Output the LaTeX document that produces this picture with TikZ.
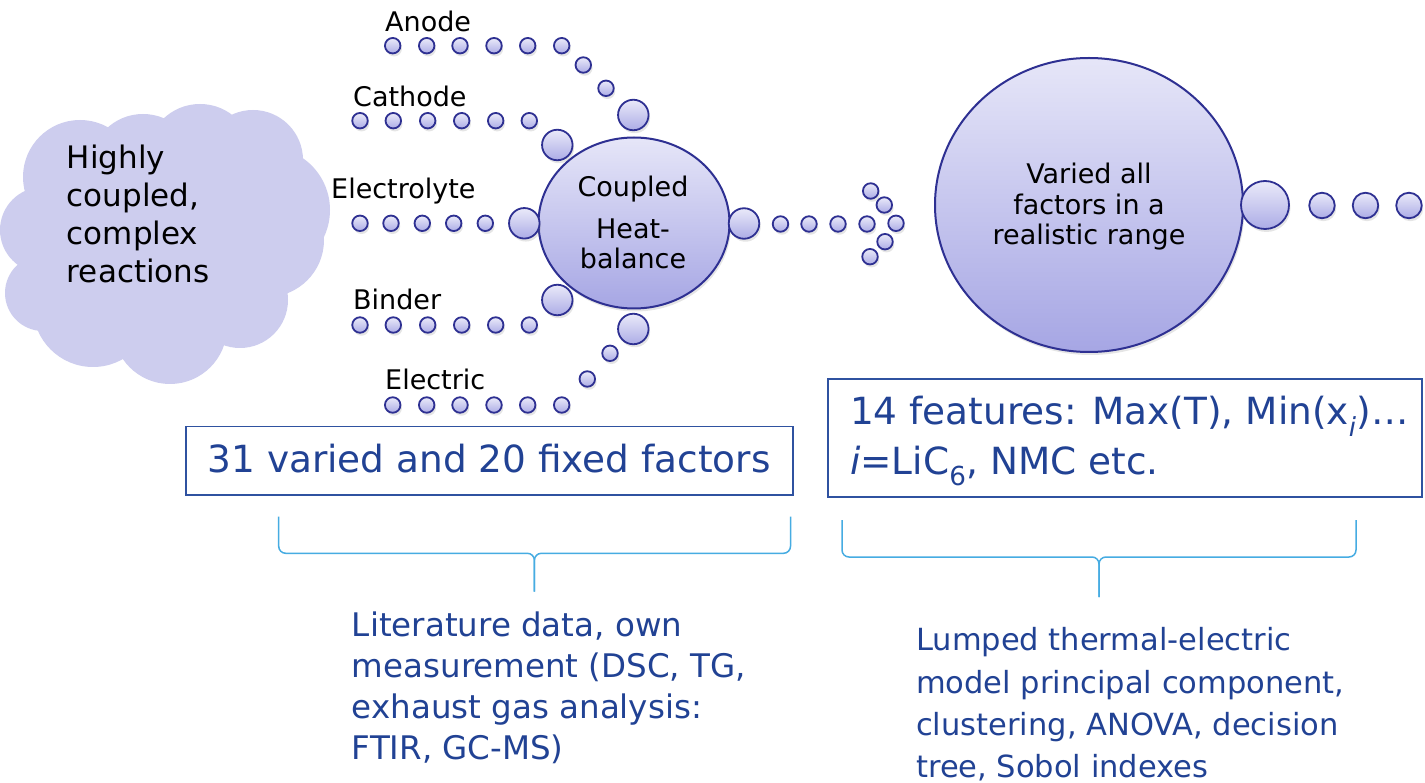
\documentclass[tikz,border=0pt]{standalone}
\usepackage{fontspec}
\setmainfont{DejaVu Sans}
\usetikzlibrary{shapes.geometric,shadows}
\definecolor{navy}{RGB}{46,48,146}
\definecolor{dottop}{RGB}{234,234,249}
\definecolor{dotbot}{RGB}{172,172,230}
\definecolor{bigtop}{RGB}{230,230,248}
\definecolor{bigbot}{RGB}{166,166,228}
\definecolor{cloudc}{RGB}{205,205,238}
\definecolor{txtblue}{RGB}{33,66,148}
\definecolor{boxblue}{RGB}{47,82,160}
\definecolor{bracec}{RGB}{70,172,226}
\begin{document}
\begin{tikzpicture}[x=1pt,y=-1pt,
  shad/.style={drop shadow={shadow xshift=1.5pt,shadow yshift=-3pt,opacity=0.2}},
  dotbase/.style={circle,draw=navy,line width=1.8pt,inner sep=0pt,top color=dottop,bottom color=dotbot,shad},
  sdot/.style={dotbase,minimum size=15.5pt},
  mdot/.style={dotbase,minimum size=25.5pt},
  bdot/.style={dotbase,minimum size=30.5pt},
  hub/.style={ellipse,draw=navy,line width=2pt,inner sep=0pt,top color=bigtop,bottom color=bigbot,shad},
  lab/.style={anchor=base west,inner sep=0pt,font=\fontsize{27}{32}\selectfont},
  ctr/.style={anchor=base,inner sep=0pt,font=\fontsize{27}{32}\selectfont},
  cloudtxt/.style={anchor=base west,inner sep=0pt,font=\fontsize{31}{38}\selectfont},
  boxstyle/.style={draw=boxblue,line width=1.6pt,inner sep=0pt,fill=white},
  boxtxt/.style={anchor=base west,inner sep=0pt,text=txtblue,font=\fontsize{37.4}{44}\selectfont},
  bltxt/.style={anchor=base west,inner sep=0pt,text=txtblue,font=\fontsize{32.5}{40}\selectfont},
  brtxt/.style={anchor=base west,inner sep=0pt,text=txtblue,font=\fontsize{30.5}{40}\selectfont},
  brc/.style={draw=bracec,line width=1.5pt,rounded corners=7pt}
]
\path[use as bounding box,fill=white] (0,0) rectangle (1425,783);

% cloud
\fill[cloudc] (80,177) circle (57) (143,167) circle (53) (200,157) circle (53)
  (253,160) circle (50) (267,210) circle (63) (267,240) circle (57)
  (240,300) circle (48) (170,327) circle (57) (93,307) circle (60)
  (43,293) circle (38) (43,230) circle (43) (165,245) ellipse (110 and 95);
\node[cloudtxt] (cl1) at (66.7,168.3) {Highly};
\node[cloudtxt] (cl2) at (66.7,206.5) {coupled,};
\node[cloudtxt] (cl3) at (66.7,245) {complex};
\node[cloudtxt] (cl4) at (66.7,283) {reactions};

% labels
\node[lab] (lA) at (385,32) {Anode};
\node[lab] (lC) at (353,106.7) {Cathode};
\node[lab] (lE) at (331,199) {Electrolyte};
\node[lab] (lB) at (353,310) {Binder};
\node[lab] (lEl) at (385,390) {Electric};

% coupled hub
\node[hub,minimum width=191pt,minimum height=171pt] (hub) at (634,223) {};
\node[ctr] (h1) at (633,196.7) {Coupled};
\node[ctr] (h2) at (633,239) {Heat-};
\node[ctr] (h3) at (633,269) {balance};

% anode row
\foreach \x [count=\i] in {392.7,426.7,460,494,527.7,561.7} \node[sdot] (a\i) at (\x,45.7) {};
\node[sdot] (a7) at (583.3,65) {};
\node[sdot] (a8) at (606,88.3) {};
\node[bdot] (a9) at (633.3,115) {};
% cathode row
\foreach \x [count=\i] in {360,393.3,427.7,461.7,495.7,529.3} \node[sdot] (c\i) at (\x,120.7) {};
\node[bdot] (c7) at (557.3,145) {};
% electrolyte row
\foreach \x [count=\i] in {360,391,422.3,453.7,485.3} \node[sdot] (e\i) at (\x,223.3) {};
\node[bdot] (e6) at (524.3,223.3) {};
% binder row
\foreach \x [count=\i] in {360,393.3,427.7,461.7,495.7,529.3} \node[sdot] (b\i) at (\x,325) {};
\node[bdot] (b7) at (557.3,300) {};
% electric row
\foreach \x [count=\i] in {392.7,426.7,460,494,527.7,561.7} \node[sdot] (el\i) at (\x,405) {};
\node[sdot] (el7) at (587.3,379) {};
\node[sdot] (el8) at (610,353.3) {};
\node[bdot] (el9) at (633.3,329) {};

% output of hub
\node[bdot] (o0) at (744,223.5) {};
\foreach \x [count=\i] in {780.5,809,838,867} \node[sdot] (o\i) at (\x,224) {};
\node[sdot] (p1) at (870.7,191) {};
\node[sdot] (p2) at (884.3,205) {};
\node[sdot] (p3) at (896,223.3) {};
\node[sdot] (p4) at (885,241.7) {};
\node[sdot] (p5) at (870,256.7) {};

% big circle
\node[hub,minimum width=308pt,minimum height=294pt] (big) at (1089,205) {};
\node[ctr] (v1) at (1089,184) {Varied all};
\node[ctr] (v2) at (1089,215) {factors in a};
\node[ctr] (v3) at (1089,245) {realistic range};
\node[dotbase,minimum size=48pt] (r0) at (1265,205) {};
\foreach \x [count=\i] in {1322,1365.5,1409} \node[mdot] (r\i) at (\x,205.5) {};

% boxes
\node[boxstyle,minimum width=606.7pt,minimum height=68.3pt] (box1) at (489.35,460.85) {};
\node[boxtxt] (t1) at (207.5,472.7) {31 varied and 20 fixed factors};
\node[boxstyle,minimum width=594pt,minimum height=117.4pt] (box2) at (1125,438) {};
\node[boxtxt] (t2) at (850,425) {14 features: Max(T), Min(x\textsubscript{\textit{i}})…};
\node[boxtxt] (t3) at (850,474.3) {\textit{i}=LiC\textsubscript{6}, NMC etc.};

% braces
\coordinate (b1l) at (278.7,516.7);
\coordinate (b1r) at (790.5,516.7);
\coordinate (b1m) at (534.4,553.3);
\coordinate (b1t) at (534.4,591.7);
\draw[brc] (b1l) |- (b1m) -- (b1t);
\draw[brc] (b1r) |- (b1m) -- (b1t);
\coordinate (b2l) at (842,520);
\coordinate (b2r) at (1356,520);
\coordinate (b2m) at (1099,557);
\coordinate (b2t) at (1099,597);
\draw[brc] (b2l) |- (b2m) -- (b2t);
\draw[brc] (b2r) |- (b2m) -- (b2t);

% bottom texts
\node[bltxt] (bl1) at (351.7,636.7) {Literature data, own};
\node[bltxt] (bl2) at (351.7,677.3) {measurement (DSC, TG,};
\node[bltxt] (bl3) at (351.7,718.3) {exhaust gas analysis:};
\node[bltxt] (bl4) at (351.7,759.3) {FTIR, GC-MS)};
\node[brtxt] (br1) at (916,650.7) {Lumped thermal-electric};
\node[brtxt] (br2) at (916,693.7) {model principal component,};
\node[brtxt] (br3) at (916,735.7) {clustering, ANOVA, decision};
\node[brtxt] (br4) at (916,777) {tree, Sobol indexes};
\end{tikzpicture}
\end{document}
